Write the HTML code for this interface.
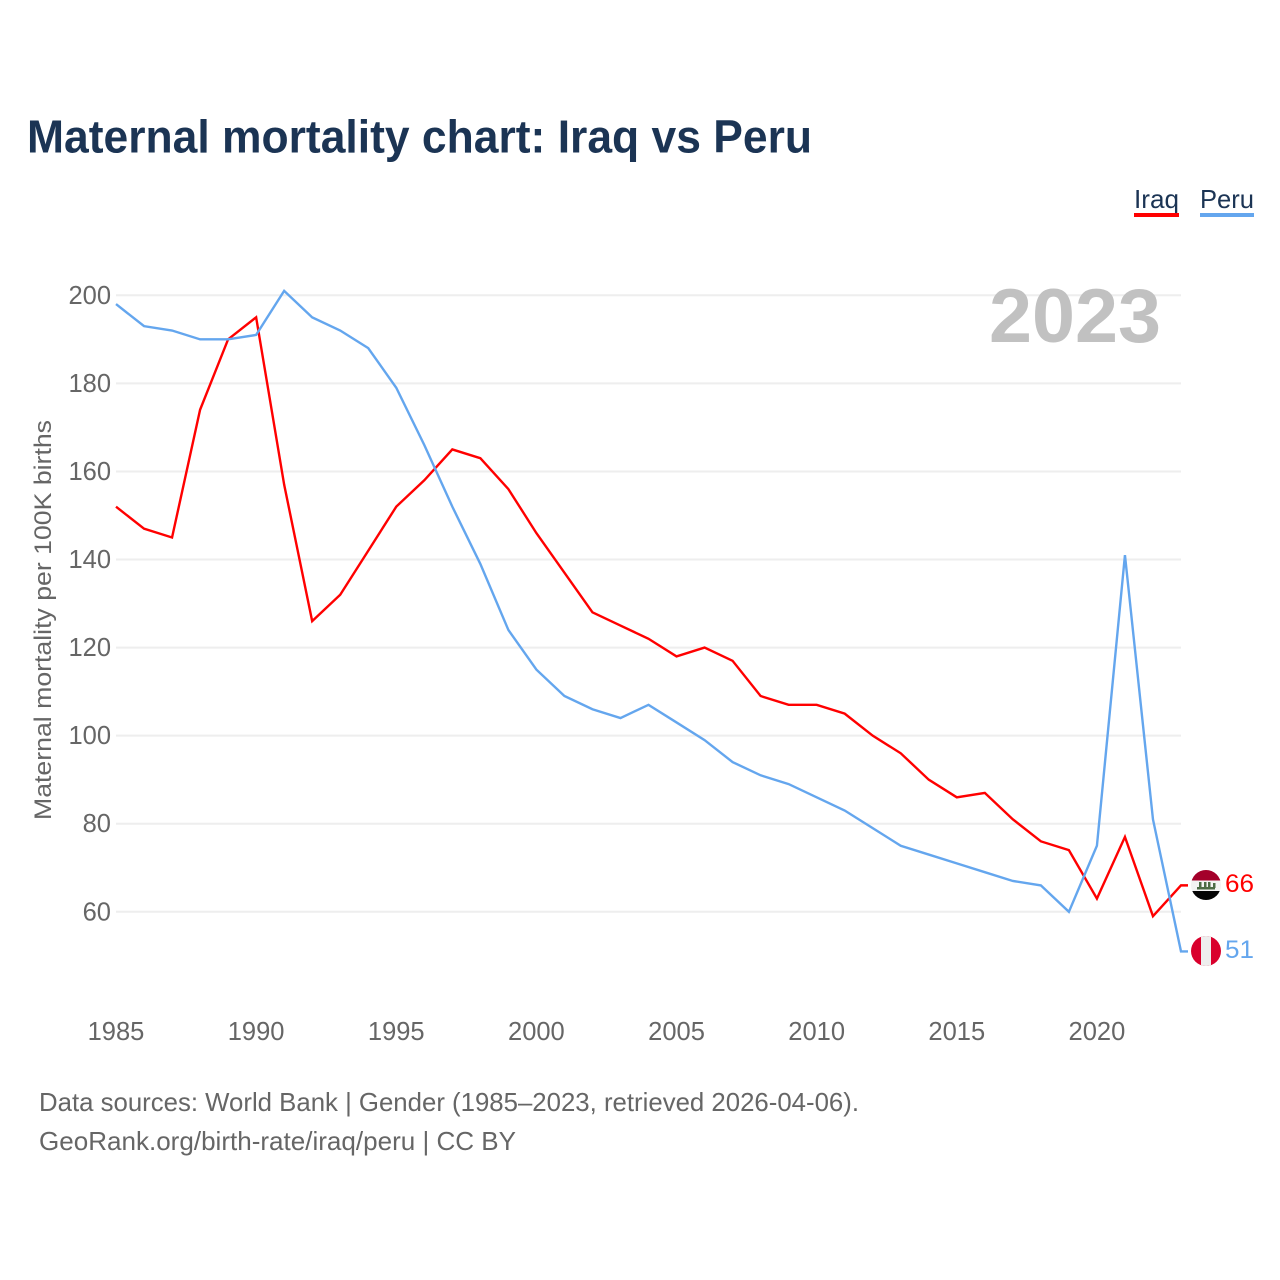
<!DOCTYPE html>
<html>
<head>
<meta charset="utf-8">
<title>Maternal mortality chart: Iraq vs Peru</title>
<style>
html,body{margin:0;padding:0;background:#fff;}
svg{display:block;}
text{font-family:"Liberation Sans",sans-serif;}
</style>
</head>
<body>
<svg id="chart" xmlns="http://www.w3.org/2000/svg" width="1280" height="1280" viewBox="0 0 1280 1280">
  <rect x="0" y="0" width="1280" height="1280" fill="#ffffff"/>
  <text x="27" y="152.5" font-size="46" font-weight="700" fill="#1b3454" textLength="785" lengthAdjust="spacingAndGlyphs">Maternal mortality chart: Iraq vs Peru</text>

  <g>
    <text x="1134" y="208" font-size="26" fill="#1b3454" textLength="45" lengthAdjust="spacingAndGlyphs">Iraq</text>
    <rect x="1134" y="213" width="45" height="4" fill="#ff0000"/>
  </g>
  <g>
    <text x="1200" y="208" font-size="26" fill="#1b3454" textLength="54" lengthAdjust="spacingAndGlyphs">Peru</text>
    <rect x="1200" y="213" width="54" height="4" fill="#64a6ee"/>
  </g>

  <g id="grid"></g>
  <g id="yticks"></g>
  <g id="xticks"></g>

  <text x="989" y="342" font-size="76" font-weight="700" fill="#c1c1c1" textLength="172" lengthAdjust="spacingAndGlyphs">2023</text>

  <text transform="translate(51,820) rotate(-90)" font-size="24" fill="#666666" textLength="400" lengthAdjust="spacingAndGlyphs">Maternal mortality per 100K births</text>

  <g id="series"></g>

  <defs>
    <clipPath id="clip-iraq"><circle cx="1206" cy="885" r="15"/></clipPath>
    <clipPath id="clip-peru"><circle cx="1206" cy="951" r="15"/></clipPath>
  </defs>

  <g clip-path="url(#clip-iraq)">
    <rect x="1191" y="870" width="30" height="10.5" fill="#a4002a"/>
    <rect x="1191" y="880.5" width="30" height="10.5" fill="#f3f3f3"/>
    <rect x="1191" y="891" width="30" height="9" fill="#050505"/>
    <rect x="1197" y="887" width="18" height="2.5" fill="#4d6b45"/>
    <rect x="1199" y="882" width="2.5" height="6" fill="#4d6b45"/>
    <rect x="1204" y="882" width="2.5" height="6" fill="#4d6b45"/>
    <rect x="1208" y="882" width="2.5" height="6" fill="#4d6b45"/>
    <rect x="1213" y="883" width="2.5" height="5" fill="#4d6b45"/>
  </g>
  <g clip-path="url(#clip-peru)">
    <rect x="1191" y="936" width="30" height="30" fill="#d9002c"/>
    <rect x="1201" y="936" width="10" height="30" fill="#eeeeee"/>
  </g>

  <text x="1225" y="892" font-size="25" fill="#ff0000" textLength="29" lengthAdjust="spacingAndGlyphs">66</text>
  <text x="1225" y="958" font-size="25" fill="#64a6ee" textLength="29" lengthAdjust="spacingAndGlyphs">51</text>

  <text x="39" y="1111" font-size="26" fill="#666666" textLength="820" lengthAdjust="spacingAndGlyphs">Data sources: World Bank | Gender (1985–2023, retrieved 2026-04-06).</text>
  <text x="39" y="1150" font-size="26" fill="#666666" textLength="477" lengthAdjust="spacingAndGlyphs">GeoRank.org/birth-rate/iraq/peru | CC BY</text>
</svg>
<script>
const years = [1985,1986,1987,1988,1989,1990,1991,1992,1993,1994,1995,1996,1997,1998,1999,2000,2001,2002,2003,2004,2005,2006,2007,2008,2009,2010,2011,2012,2013,2014,2015,2016,2017,2018,2019,2020,2021,2022,2023];
const iraqValues = [152,147,145,174,190,195,157,126,132,142,152,158,165,163,156,146,137,128,125,122,118,120,117,109,107,107,105,100,96,90,86,87,81,76,74,63,77,59,66];
const peruValues = [198,193,192,190,190,191,201,195,192,188,179,166,152,139,124,115,109,106,104,107,103,99,94,91,89,86,83,79,75,73,71,69,67,66,60,75,141,81,51];
const yTickValues = [60,80,100,120,140,160,180,200];
const xTickValues = [1985,1990,1995,2000,2005,2010,2015,2020];

const NS = 'http://www.w3.org/2000/svg';
function xScale(year) { return 116 + (year - 1985) * (1181 - 116) / 38; }
function yScale(value) { return 911.8 - (value - 60) * (911.8 - 295.3) / 140; }

const gridGroup = document.getElementById('grid');
const yTickGroup = document.getElementById('yticks');
const xTickGroup = document.getElementById('xticks');
const seriesGroup = document.getElementById('series');

yTickValues.forEach(function (v) {
  const line = document.createElementNS(NS, 'line');
  
  
  line.setAttribute('x1', 116);
  line.setAttribute('x2', 1181);
  line.setAttribute('y1', yScale(v));
  line.setAttribute('y2', yScale(v));
  line.setAttribute('stroke', '#eeeeee');
  line.setAttribute('stroke-width', 2);
  gridGroup.appendChild(line);

  const label = document.createElementNS(NS, 'text');
  
  
  label.setAttribute('x', 111);
  label.setAttribute('y', yScale(v) + 8.5);
  label.setAttribute('text-anchor', 'end');
  label.setAttribute('font-size', 25.5);
  label.setAttribute('fill', '#666666');
  label.textContent = v;
  yTickGroup.appendChild(label);
});

xTickValues.forEach(function (y) {
  const label = document.createElementNS(NS, 'text');
  
  
  label.setAttribute('x', xScale(y));
  label.setAttribute('y', 1040);
  label.setAttribute('text-anchor', 'middle');
  label.setAttribute('font-size', 25.5);
  label.setAttribute('fill', '#666666');
  label.textContent = y;
  xTickGroup.appendChild(label);
});

function linePath(values) {
  const parts = values.map(function (v, i) {
    return (i === 0 ? 'M' : 'L') + xScale(years[i]).toFixed(2) + ' ' + yScale(v).toFixed(2);
  });
  const last = values[values.length - 1];
  parts.push('L' + (xScale(years[years.length - 1]) + 7).toFixed(2) + ' ' + yScale(last).toFixed(2));
  return parts.join(' ');
}

const iraqLine = document.createElementNS(NS, 'path');


iraqLine.setAttribute('d', linePath(iraqValues));
iraqLine.setAttribute('fill', 'none');
iraqLine.setAttribute('stroke', '#ff0000');
iraqLine.setAttribute('stroke-width', 2.4);
seriesGroup.appendChild(iraqLine);

const peruLine = document.createElementNS(NS, 'path');


peruLine.setAttribute('d', linePath(peruValues));
peruLine.setAttribute('fill', 'none');
peruLine.setAttribute('stroke', '#64a6ee');
peruLine.setAttribute('stroke-width', 2.4);
seriesGroup.appendChild(peruLine);
</script>
</body>
</html>
